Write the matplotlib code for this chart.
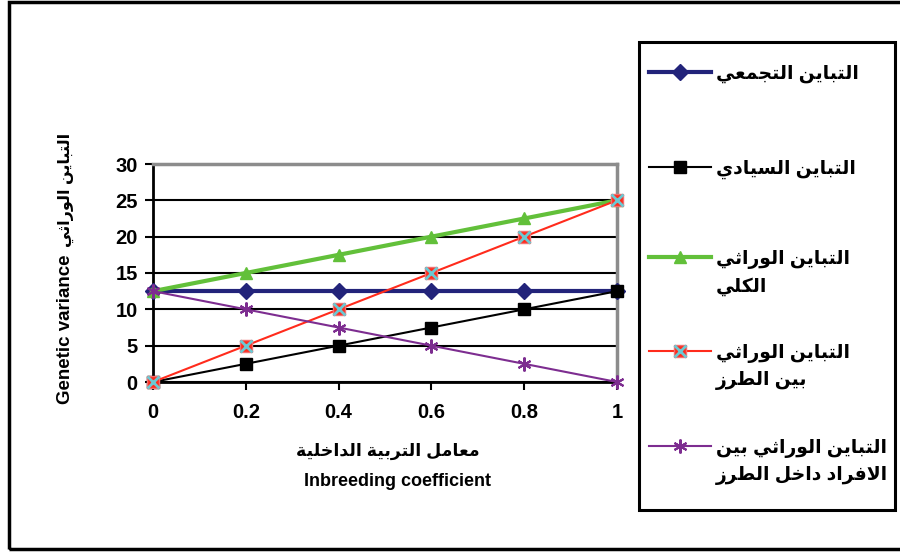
import matplotlib
matplotlib.use("Agg")
import matplotlib.pyplot as plt
from matplotlib.lines import Line2D
from matplotlib.patches import Rectangle

# --- Arabic shaping (matplotlib 3.10 has no shaping / bidi) ---
FORMS = {
    '\u0627': (0xFE8D, 0xFE8E, None, None),
    '\u0628': (0xFE8F, 0xFE90, 0xFE91, 0xFE92),
    '\u0629': (0xFE93, 0xFE94, None, None),
    '\u062A': (0xFE95, 0xFE96, 0xFE97, 0xFE98),
    '\u062B': (0xFE99, 0xFE9A, 0xFE9B, 0xFE9C),
    '\u062C': (0xFE9D, 0xFE9E, 0xFE9F, 0xFEA0),
    '\u062D': (0xFEA1, 0xFEA2, 0xFEA3, 0xFEA4),
    '\u062E': (0xFEA5, 0xFEA6, 0xFEA7, 0xFEA8),
    '\u062F': (0xFEA9, 0xFEAA, None, None),
    '\u0630': (0xFEAB, 0xFEAC, None, None),
    '\u0631': (0xFEAD, 0xFEAE, None, None),
    '\u0632': (0xFEAF, 0xFEB0, None, None),
    '\u0633': (0xFEB1, 0xFEB2, 0xFEB3, 0xFEB4),
    '\u0634': (0xFEB5, 0xFEB6, 0xFEB7, 0xFEB8),
    '\u0637': (0xFEC1, 0xFEC2, 0xFEC3, 0xFEC4),
    '\u0639': (0xFEC9, 0xFECA, 0xFECB, 0xFECC),
    '\u0641': (0xFED1, 0xFED2, 0xFED3, 0xFED4),
    '\u0642': (0xFED5, 0xFED6, 0xFED7, 0xFED8),
    '\u0643': (0xFED9, 0xFEDA, 0xFEDB, 0xFEDC),
    '\u0644': (0xFEDD, 0xFEDE, 0xFEDF, 0xFEE0),
    '\u0645': (0xFEE1, 0xFEE2, 0xFEE3, 0xFEE4),
    '\u0646': (0xFEE5, 0xFEE6, 0xFEE7, 0xFEE8),
    '\u0647': (0xFEE9, 0xFEEA, 0xFEEB, 0xFEEC),
    '\u0648': (0xFEED, 0xFEEE, None, None),
    '\u064A': (0xFEF1, 0xFEF2, 0xFEF3, 0xFEF4),
}
LAM_ALEF = {'\u0627': (0xFEFB, 0xFEFC)}


def shape(s):
    out = []
    i, n = 0, len(s)
    while i < n:
        c = s[i]
        if c not in FORMS:
            out.append(c)
            i += 1
            continue
        prev = s[i - 1] if i > 0 else None
        joins_prev = prev in FORMS and FORMS[prev][2] is not None
        if c == '\u0644' and i + 1 < n and s[i + 1] in LAM_ALEF:
            lig = LAM_ALEF[s[i + 1]]
            out.append(chr(lig[1] if joins_prev else lig[0]))
            i += 2
            continue
        nxt = s[i + 1] if i + 1 < n else None
        joins_next = FORMS[c][2] is not None and nxt in FORMS
        iso, fin, ini, med = FORMS[c]
        if joins_prev and joins_next:
            g = med
        elif joins_prev:
            g = fin
        elif joins_next:
            g = ini
        else:
            g = iso
        out.append(chr(g))
        i += 1
    return ''.join(out)


def ar(s):
    return '\n'.join(shape(line)[::-1] for line in s.split('\n'))


# --- data ---
inbreeding = [0, 0.2, 0.4, 0.6, 0.8, 1]
total_var = [12.5, 12.5, 12.5, 12.5, 12.5, 12.5]
dominance_var = [0, 2.5, 5, 7.5, 10, 12.5]
total_genetic_var = [12.5, 15, 17.5, 20, 22.5, 25]
between_lines_var = [0, 5, 10, 15, 20, 25]
within_lines_var = [12.5, 10, 7.5, 5, 2.5, 0]

labels = [
    "التباين التجمعي",
    "التباين السيادي",
    "التباين الوراثي\nالكلي",
    "التباين الوراثي\nبين الطرز",
    "التباين الوراثي بين\nالافراد داخل الطرز",
]
yticks = [0, 5, 10, 15, 20, 25, 30]
xticks = [0, 0.2, 0.4, 0.6, 0.8, 1]
xticklabels = ["0", "0.2", "0.4", "0.6", "0.8", "1"]

FONT = ['Liberation Sans', 'DejaVu Sans']
plt.rcParams['font.family'] = FONT
plt.rcParams['font.weight'] = 'bold'

navy = '#22237A'
green = '#62C03A'
red = '#FF2B1C'
cyan = '#6CC8D2'
purple = '#7D2D90'

styles = [
    dict(color=navy, lw=3, marker='D', ms=8, mfc=navy, mec=navy),
    dict(color='black', lw=1.5, marker='s', ms=8, mfc='black', mec='black'),
    dict(color=green, lw=3, marker='^', ms=9, mfc=green, mec=green),
    dict(color=red, lw=1.5, marker='s', ms=9, mfc=red, mec='#F07070'),
    dict(color=purple, lw=1.5, marker=(6, 2, 0), ms=10, mfc=purple, mec=purple, mew=1.5),
]
series = [total_var, dominance_var, total_genetic_var, between_lines_var, within_lines_var]

fig = plt.figure(figsize=(9, 5.53), dpi=100)
ax = fig.add_axes([153 / 900, 1 - 382 / 553, 464 / 900, 218 / 553])

for vals, st in zip(series, styles):
    ax.plot(inbreeding, vals, clip_on=False, zorder=3, **st)
    if st['color'] == red:
        ax.plot(inbreeding, vals, ls='none', marker='x', ms=8, mew=2,
                color=cyan, clip_on=False, zorder=3)

ax.set_xlim(0, 1)
ax.set_ylim(0, 30)
ax.set_yticks(yticks)
ax.set_xticks(xticks)
ax.set_xticklabels(xticklabels)
ax.yaxis.grid(True, color='black', lw=1.5, zorder=1)
ax.set_axisbelow(True)
for side in ['left', 'bottom']:
    ax.spines[side].set_color('black')
    ax.spines[side].set_linewidth(2)
for side in ['top', 'right']:
    ax.spines[side].set_color('#8C8C8C')
    ax.spines[side].set_linewidth(2.5)
ax.tick_params(axis='y', direction='out', length=6, width=1.5, pad=5, labelsize=14.5)
ax.tick_params(axis='x', direction='out', length=6, width=1.5, pad=9, labelsize=14.5)

# axis titles
fig.text(388 / 900, 1 - 451 / 553, ar("معامل التربية الداخلية"), ha='center', va='center',
         fontsize=12.5, fontweight='bold')
fig.text(398 / 900, 1 - 482 / 553, "Inbreeding coefficient", ha='center', va='center',
         fontsize=13, fontweight='bold')
fig.text(66 / 900, 1 - 329 / 553, "Genetic variance", rotation=90, ha='center', va='center',
         fontsize=13.5, fontweight='bold')
fig.text(66 / 900, 1 - 190 / 553, ar("التباين الوراثي"), rotation=90, ha='center', va='center',
         fontsize=11.5, fontweight='bold')

# legend box drawn by hand so the handle sits on the first line of each label
fig.patches.append(Rectangle((639 / 900, 1 - 510 / 553), 256 / 900, 468 / 553,
                             transform=fig.transFigure, fill=False, ec='black', lw=2.2))
handle_y = [72, 167, 257, 351, 446]
for lab, st, hy in zip(labels, styles, handle_y):
    yf = 1 - hy / 553
    ln = Line2D([649 / 900, 680 / 900, 711 / 900], [yf] * 3, transform=fig.transFigure,
                markevery=[1], **st)
    fig.lines.append(ln)
    if st['color'] == red:
        fig.lines.append(Line2D([680 / 900], [yf], transform=fig.transFigure, ls='none',
                                marker='x', ms=8, mew=2, color=cyan))
    fig.text(716 / 900, yf + 7 / 553, ar(lab), ha='left', va='top', fontsize=13.5,
             fontweight='bold', linespacing=1.6)

# outer frame (right edge cut off in the original)
fig.patches.append(Rectangle((9 / 900, 4 / 553), 1.0, 547 / 553, transform=fig.transFigure,
                             fill=False, ec='black', lw=2.5))

fig.savefig("out.png", dpi=100)
